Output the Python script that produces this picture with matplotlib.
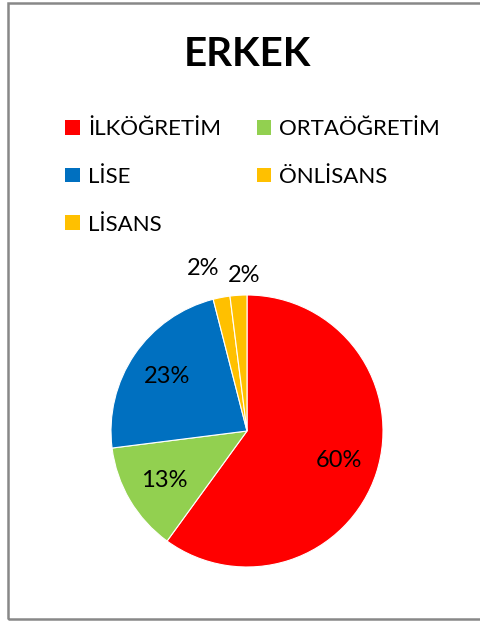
import matplotlib
matplotlib.use('Agg')
import matplotlib.pyplot as plt
from matplotlib.patches import Patch, Rectangle

plt.rcParams['font.family'] = ['Lato', 'DejaVu Sans']

# veriler
categories = ['İLKÖĞRETİM', 'ORTAÖĞRETİM', 'LİSE', 'ÖNLİSANS', 'LİSANS']
values = [60, 13, 23, 2, 2]
colors = ['#FF0000', '#92D050', '#0070C0', '#FFC000', '#FFC000']
title = 'ERKEK'

W, H = 481, 622
fig = plt.figure(figsize=(W / 100, H / 100), dpi=100)
ax = fig.add_axes([0, 0, 1, 1])

# çerçeve
fig.patches.append(Rectangle((8 / W, 3 / H), 1.2, 616 / H, transform=fig.transFigure,
                             fill=False, edgecolor='#888888', linewidth=1.8))

# pasta grafiği
wedges, texts, autotexts = ax.pie(values, colors=colors, startangle=90, counterclock=False,
                                  center=(247, H - 431), radius=136,
                                  autopct='%1.0f%%', pctdistance=0.71,
                                  wedgeprops={'edgecolor': 'white', 'linewidth': 0.8},
                                  textprops={'fontsize': 17, 'color': 'black'})
ax.set_xlim(0, W)
ax.set_ylim(0, H)
ax.set_aspect('equal')
ax.axis('off')

# küçük dilimlerin etiketleri dışarıda
autotexts[3].set_position((203, H - 268))
autotexts[4].set_position((244, H - 275))

fig.text(247 / W, 1 - 55 / H, title, ha='center', va='center', fontsize=29, fontweight='bold')

# lejant (satır sırası için yeniden dizildi)
order = [0, 2, 4, 1, 3]
handles = [Patch(facecolor=colors[i], label=categories[i]) for i in order]
fig.legend(handles=handles, ncol=2, loc='upper left', bbox_to_anchor=(54 / W, 1 - 108 / H),
           frameon=False, fontsize=16, handlelength=0.65, handleheight=0.65,
           handletextpad=0.38, columnspacing=1.6, labelspacing=1.25, borderpad=0)

fig.savefig('out.png', dpi=100)
